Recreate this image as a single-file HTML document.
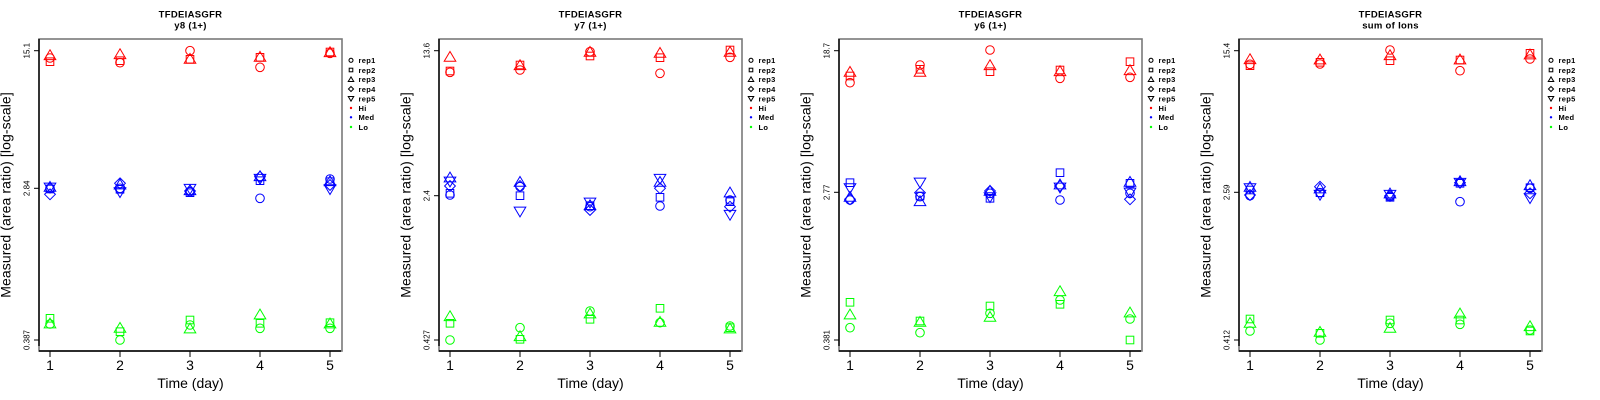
<!DOCTYPE html>
<html>
<head>
<meta charset="utf-8">
<style>
html,body{margin:0;padding:0;background:#fff;}
svg{display:block;}
text{font-family:"Liberation Sans",Arial,sans-serif;fill:#000;}
.tt{font-size:9.5px;font-weight:bold;text-anchor:middle;letter-spacing:0.3px;}
.yl{font-size:14px;text-anchor:middle;letter-spacing:0.1px;}
.yt{font-size:8px;text-anchor:middle;}
.xt{font-size:14px;text-anchor:middle;}
.lg{font-size:7.5px;font-weight:bold;letter-spacing:0.3px;}
</style>
</head>
<body>
<svg width="1600" height="400" viewBox="0 0 1600 400" xmlns="http://www.w3.org/2000/svg">
<defs>
<circle id="c" r="4.3"/>
<rect id="s" x="-3.8" y="-3.8" width="7.6" height="7.6"/>
<path id="t" d="M0,-5.2L5.8,4.6L-5.8,4.6Z"/>
<path id="d" d="M0,-5.4L5.4,0L0,5.4L-5.4,0Z"/>
<path id="v" d="M0,5.2L5.8,-4.6L-5.8,-4.6Z"/>
<g id="frame">
<rect x="39" y="39" width="303" height="312" fill="none" stroke="#7a7a7a" stroke-width="1.6"/>
<line x1="39" y1="39" x2="39" y2="346" stroke="#000" stroke-width="1.4"/>
<line x1="39" y1="351" x2="341" y2="351" stroke="#000" stroke-width="1.4"/>
<g stroke="#000" stroke-width="1">
<line x1="34" y1="50.7" x2="39" y2="50.7"/>
<line x1="34" y1="340" x2="39" y2="340"/>
<line x1="50" y1="351" x2="50" y2="357"/>
<line x1="120" y1="351" x2="120" y2="357"/>
<line x1="190" y1="351" x2="190" y2="357"/>
<line x1="260" y1="351" x2="260" y2="357"/>
<line x1="330" y1="351" x2="330" y2="357"/>
</g>
<g fill="none" stroke="#000" stroke-width="2.2">
<use href="#c" transform="translate(351,60.3) scale(0.47)"/>
<use href="#s" transform="translate(351,70) scale(0.47)"/>
<use href="#t" transform="translate(351,79.3) scale(0.47)"/>
<use href="#d" transform="translate(351,89) scale(0.47)"/>
<use href="#v" transform="translate(351,98.7) scale(0.47)"/>
</g>
<circle cx="351" cy="108" r="1.2" fill="#f00"/>
<circle cx="351" cy="117.3" r="1.2" fill="#00f"/>
<circle cx="351" cy="127" r="1.2" fill="#0f0"/>
</g>
</defs>

<!-- Panel 1 -->
<g transform="translate(0,0)">
<use href="#frame"/>
<text class="tt" x="190.5" y="17.3">TFDEIASGFR</text>
<text class="tt" x="190.5" y="28.7">y8 (1+)</text>
<text class="yl" transform="translate(10.5,195) rotate(-90)">Measured (area ratio) [log-scale]</text>
<line x1="34" y1="188.3" x2="39" y2="188.3" stroke="#000"/>
<text class="yt" transform="translate(29.3,50.7) rotate(-90)">15.1</text>
<text class="yt" transform="translate(29.3,188.3) rotate(-90)">2.84</text>
<text class="yt" transform="translate(29.3,340) rotate(-90)">0.387</text>
<text class="xt" x="50" y="370">1</text><text class="xt" x="120" y="370">2</text><text class="xt" x="190" y="370">3</text><text class="xt" x="260" y="370">4</text><text class="xt" x="330" y="370">5</text>
<text class="xt" x="190.5" y="388">Time (day)</text>
<text class="lg" x="358.5" y="63.1">rep1</text><text class="lg" x="358.5" y="72.8">rep2</text><text class="lg" x="358.5" y="82.1">rep3</text><text class="lg" x="358.5" y="91.8">rep4</text><text class="lg" x="358.5" y="101.5">rep5</text><text class="lg" x="358.5" y="110.8">Hi</text><text class="lg" x="358.5" y="120.1">Med</text><text class="lg" x="358.5" y="129.8">Lo</text>
<g fill="none" stroke="#f00" stroke-width="1">
<use href="#c" x="50" y="58"/><use href="#s" x="50" y="61.7"/><use href="#t" x="50" y="55"/>
<use href="#c" x="120" y="62.7"/><use href="#s" x="120" y="60.7"/><use href="#t" x="120" y="54"/>
<use href="#c" x="190" y="50.7"/><use href="#s" x="190" y="59.3"/><use href="#t" x="190" y="58.7"/>
<use href="#c" x="260" y="67.3"/><use href="#s" x="260" y="57.3"/><use href="#t" x="260" y="56.7"/>
<use href="#c" x="330" y="53.3"/><use href="#s" x="330" y="52"/><use href="#t" x="330" y="52"/>
</g>
<g fill="none" stroke="#00f" stroke-width="1">
<use href="#c" x="50" y="188.3"/><use href="#s" x="50" y="189"/><use href="#t" x="50" y="186.7"/><use href="#d" x="50" y="194.3"/><use href="#v" x="50" y="187.7"/>
<use href="#c" x="120" y="188.3"/><use href="#s" x="120" y="189.3"/><use href="#t" x="120" y="184.3"/><use href="#d" x="120" y="183.3"/><use href="#v" x="120" y="192.3"/>
<use href="#c" x="190" y="191.7"/><use href="#s" x="190" y="192.7"/><use href="#t" x="190" y="190"/><use href="#d" x="190" y="191"/><use href="#v" x="190" y="189"/>
<use href="#c" x="260" y="198.3"/><use href="#s" x="260" y="180.7"/><use href="#t" x="260" y="176"/><use href="#d" x="260" y="176.7"/><use href="#v" x="260" y="179"/>
<use href="#c" x="330" y="179"/><use href="#s" x="330" y="181.7"/><use href="#t" x="330" y="181"/><use href="#d" x="330" y="185"/><use href="#v" x="330" y="189.3"/>
</g>
<g fill="none" stroke="#0f0" stroke-width="1">
<use href="#c" x="50" y="324"/><use href="#s" x="50" y="318.3"/><use href="#t" x="50" y="323.3"/>
<use href="#c" x="120" y="340"/><use href="#s" x="120" y="331.7"/><use href="#t" x="120" y="327.7"/>
<use href="#c" x="190" y="325"/><use href="#s" x="190" y="320"/><use href="#t" x="190" y="328.3"/>
<use href="#c" x="260" y="328.3"/><use href="#s" x="260" y="323.3"/><use href="#t" x="260" y="314.3"/>
<use href="#c" x="330" y="328.3"/><use href="#s" x="330" y="322.7"/><use href="#t" x="330" y="323.3"/>
</g>
</g>

<!-- Panel 2 -->
<g transform="translate(400,0)">
<use href="#frame"/>
<text class="tt" x="190.5" y="17.3">TFDEIASGFR</text>
<text class="tt" x="190.5" y="28.7">y7 (1+)</text>
<text class="yl" transform="translate(10.5,195) rotate(-90)">Measured (area ratio) [log-scale]</text>
<line x1="34" y1="195.7" x2="39" y2="195.7" stroke="#000"/>
<text class="yt" transform="translate(29.3,50.7) rotate(-90)">13.6</text>
<text class="yt" transform="translate(29.3,195.7) rotate(-90)">2.4</text>
<text class="yt" transform="translate(29.3,340) rotate(-90)">0.427</text>
<text class="xt" x="50" y="370">1</text><text class="xt" x="120" y="370">2</text><text class="xt" x="190" y="370">3</text><text class="xt" x="260" y="370">4</text><text class="xt" x="330" y="370">5</text>
<text class="xt" x="190.5" y="388">Time (day)</text>
<text class="lg" x="358.5" y="63.1">rep1</text><text class="lg" x="358.5" y="72.8">rep2</text><text class="lg" x="358.5" y="82.1">rep3</text><text class="lg" x="358.5" y="91.8">rep4</text><text class="lg" x="358.5" y="101.5">rep5</text><text class="lg" x="358.5" y="110.8">Hi</text><text class="lg" x="358.5" y="120.1">Med</text><text class="lg" x="358.5" y="129.8">Lo</text>
<g fill="none" stroke="#f00" stroke-width="1">
<use href="#c" x="50" y="72.3"/><use href="#s" x="50" y="71"/><use href="#t" x="50" y="56.7"/>
<use href="#c" x="120" y="70"/><use href="#s" x="120" y="65"/><use href="#t" x="120" y="65"/>
<use href="#c" x="190" y="51.7"/><use href="#s" x="190" y="56"/><use href="#t" x="190" y="51.7"/>
<use href="#c" x="260" y="73.3"/><use href="#s" x="260" y="57.7"/><use href="#t" x="260" y="52.7"/>
<use href="#c" x="330" y="57.3"/><use href="#s" x="330" y="50"/><use href="#t" x="330" y="51.7"/>
</g>
<g fill="none" stroke="#00f" stroke-width="1">
<use href="#c" x="50" y="195"/><use href="#s" x="50" y="193.3"/><use href="#t" x="50" y="177.3"/><use href="#d" x="50" y="186"/><use href="#v" x="50" y="181.7"/>
<use href="#c" x="120" y="186.7"/><use href="#s" x="120" y="195.7"/><use href="#t" x="120" y="181.7"/><use href="#d" x="120" y="186"/><use href="#v" x="120" y="211.7"/>
<use href="#c" x="190" y="206.7"/><use href="#s" x="190" y="205.7"/><use href="#t" x="190" y="205"/><use href="#d" x="190" y="210"/><use href="#v" x="190" y="202.7"/>
<use href="#c" x="260" y="206"/><use href="#s" x="260" y="197.3"/><use href="#t" x="260" y="181.7"/><use href="#d" x="260" y="188.3"/><use href="#v" x="260" y="179"/>
<use href="#c" x="330" y="200"/><use href="#s" x="330" y="201.7"/><use href="#t" x="330" y="192.3"/><use href="#d" x="330" y="206.7"/><use href="#v" x="330" y="215"/>
</g>
<g fill="none" stroke="#0f0" stroke-width="1">
<use href="#c" x="50" y="340"/><use href="#s" x="50" y="323.3"/><use href="#t" x="50" y="316"/>
<use href="#c" x="120" y="327.7"/><use href="#s" x="120" y="339.3"/><use href="#t" x="120" y="336"/>
<use href="#c" x="190" y="311"/><use href="#s" x="190" y="319.3"/><use href="#t" x="190" y="313.3"/>
<use href="#c" x="260" y="322.7"/><use href="#s" x="260" y="308.3"/><use href="#t" x="260" y="321.7"/>
<use href="#c" x="330" y="326"/><use href="#s" x="330" y="327.7"/><use href="#t" x="330" y="328.3"/>
</g>
</g>

<!-- Panel 3 -->
<g transform="translate(800,0)">
<use href="#frame"/>
<text class="tt" x="190.5" y="17.3">TFDEIASGFR</text>
<text class="tt" x="190.5" y="28.7">y6 (1+)</text>
<text class="yl" transform="translate(10.5,195) rotate(-90)">Measured (area ratio) [log-scale]</text>
<line x1="34" y1="192.3" x2="39" y2="192.3" stroke="#000"/>
<text class="yt" transform="translate(29.3,50.7) rotate(-90)">18.7</text>
<text class="yt" transform="translate(29.3,192.3) rotate(-90)">2.77</text>
<text class="yt" transform="translate(29.3,340) rotate(-90)">0.381</text>
<text class="xt" x="50" y="370">1</text><text class="xt" x="120" y="370">2</text><text class="xt" x="190" y="370">3</text><text class="xt" x="260" y="370">4</text><text class="xt" x="330" y="370">5</text>
<text class="xt" x="190.5" y="388">Time (day)</text>
<text class="lg" x="358.5" y="63.1">rep1</text><text class="lg" x="358.5" y="72.8">rep2</text><text class="lg" x="358.5" y="82.1">rep3</text><text class="lg" x="358.5" y="91.8">rep4</text><text class="lg" x="358.5" y="101.5">rep5</text><text class="lg" x="358.5" y="110.8">Hi</text><text class="lg" x="358.5" y="120.1">Med</text><text class="lg" x="358.5" y="129.8">Lo</text>
<g fill="none" stroke="#f00" stroke-width="1">
<use href="#c" x="50" y="82.7"/><use href="#s" x="50" y="76"/><use href="#t" x="50" y="71.7"/>
<use href="#c" x="120" y="65"/><use href="#s" x="120" y="69.3"/><use href="#t" x="120" y="71.7"/>
<use href="#c" x="190" y="50"/><use href="#s" x="190" y="71.7"/><use href="#t" x="190" y="65"/>
<use href="#c" x="260" y="78.3"/><use href="#s" x="260" y="70"/><use href="#t" x="260" y="71"/>
<use href="#c" x="330" y="77.3"/><use href="#s" x="330" y="61.7"/><use href="#t" x="330" y="70"/>
</g>
<g fill="none" stroke="#00f" stroke-width="1">
<use href="#c" x="50" y="200"/><use href="#s" x="50" y="182.7"/><use href="#t" x="50" y="196.7"/><use href="#d" x="50" y="199.3"/><use href="#v" x="50" y="188.3"/>
<use href="#c" x="120" y="196.7"/><use href="#s" x="120" y="196"/><use href="#t" x="120" y="201"/><use href="#d" x="120" y="192.7"/><use href="#v" x="120" y="182.7"/>
<use href="#c" x="190" y="193.3"/><use href="#s" x="190" y="198.3"/><use href="#t" x="190" y="190.7"/><use href="#d" x="190" y="191"/><use href="#v" x="190" y="197.3"/>
<use href="#c" x="260" y="200"/><use href="#s" x="260" y="172.7"/><use href="#t" x="260" y="184.3"/><use href="#d" x="260" y="186"/><use href="#v" x="260" y="187.7"/>
<use href="#c" x="330" y="193.3"/><use href="#s" x="330" y="183.3"/><use href="#t" x="330" y="181.7"/><use href="#d" x="330" y="199.3"/><use href="#v" x="330" y="192.7"/>
</g>
<g fill="none" stroke="#0f0" stroke-width="1">
<use href="#c" x="50" y="327.7"/><use href="#s" x="50" y="302.3"/><use href="#t" x="50" y="314.3"/>
<use href="#c" x="120" y="332.7"/><use href="#s" x="120" y="321"/><use href="#t" x="120" y="321.7"/>
<use href="#c" x="190" y="313.3"/><use href="#s" x="190" y="306"/><use href="#t" x="190" y="316.7"/>
<use href="#c" x="260" y="300"/><use href="#s" x="260" y="304.3"/><use href="#t" x="260" y="291"/>
<use href="#c" x="330" y="319"/><use href="#s" x="330" y="340"/><use href="#t" x="330" y="312.3"/>
</g>
</g>

<!-- Panel 4 -->
<g transform="translate(1200,0)">
<use href="#frame"/>
<text class="tt" x="190.5" y="17.3">TFDEIASGFR</text>
<text class="tt" x="190.5" y="28.7">sum of Ions</text>
<text class="yl" transform="translate(10.5,195) rotate(-90)">Measured (area ratio) [log-scale]</text>
<line x1="34" y1="192.3" x2="39" y2="192.3" stroke="#000"/>
<text class="yt" transform="translate(29.3,50.7) rotate(-90)">15.4</text>
<text class="yt" transform="translate(29.3,192.3) rotate(-90)">2.59</text>
<text class="yt" transform="translate(29.3,340) rotate(-90)">0.412</text>
<text class="xt" x="50" y="370">1</text><text class="xt" x="120" y="370">2</text><text class="xt" x="190" y="370">3</text><text class="xt" x="260" y="370">4</text><text class="xt" x="330" y="370">5</text>
<text class="xt" x="190.5" y="388">Time (day)</text>
<text class="lg" x="358.5" y="63.1">rep1</text><text class="lg" x="358.5" y="72.8">rep2</text><text class="lg" x="358.5" y="82.1">rep3</text><text class="lg" x="358.5" y="91.8">rep4</text><text class="lg" x="358.5" y="101.5">rep5</text><text class="lg" x="358.5" y="110.8">Hi</text><text class="lg" x="358.5" y="120.1">Med</text><text class="lg" x="358.5" y="129.8">Lo</text>
<g fill="none" stroke="#f00" stroke-width="1">
<use href="#c" x="50" y="64.3"/><use href="#s" x="50" y="65.7"/><use href="#t" x="50" y="59"/>
<use href="#c" x="120" y="64"/><use href="#s" x="120" y="62.3"/><use href="#t" x="120" y="59.3"/>
<use href="#c" x="190" y="50"/><use href="#s" x="190" y="60.7"/><use href="#t" x="190" y="55"/>
<use href="#c" x="260" y="70.7"/><use href="#s" x="260" y="60"/><use href="#t" x="260" y="59.3"/>
<use href="#c" x="330" y="59"/><use href="#s" x="330" y="53.3"/><use href="#t" x="330" y="54.3"/>
</g>
<g fill="none" stroke="#00f" stroke-width="1">
<use href="#c" x="50" y="195.7"/><use href="#s" x="50" y="190"/><use href="#t" x="50" y="186.7"/><use href="#d" x="50" y="195"/><use href="#v" x="50" y="188.3"/>
<use href="#c" x="120" y="192.7"/><use href="#s" x="120" y="192.7"/><use href="#t" x="120" y="188.3"/><use href="#d" x="120" y="186.7"/><use href="#v" x="120" y="195"/>
<use href="#c" x="190" y="196.7"/><use href="#s" x="190" y="197.3"/><use href="#t" x="190" y="193.3"/><use href="#d" x="190" y="196"/><use href="#v" x="190" y="195"/>
<use href="#c" x="260" y="201.7"/><use href="#s" x="260" y="183.3"/><use href="#t" x="260" y="181"/><use href="#d" x="260" y="182.7"/><use href="#v" x="260" y="183"/>
<use href="#c" x="330" y="188.3"/><use href="#s" x="330" y="187.7"/><use href="#t" x="330" y="185"/><use href="#d" x="330" y="193.3"/><use href="#v" x="330" y="198.3"/>
</g>
<g fill="none" stroke="#0f0" stroke-width="1">
<use href="#c" x="50" y="331"/><use href="#s" x="50" y="319"/><use href="#t" x="50" y="322.7"/>
<use href="#c" x="120" y="340"/><use href="#s" x="120" y="333.3"/><use href="#t" x="120" y="331.7"/>
<use href="#c" x="190" y="323.3"/><use href="#s" x="190" y="320"/><use href="#t" x="190" y="327.7"/>
<use href="#c" x="260" y="324.3"/><use href="#s" x="260" y="320"/><use href="#t" x="260" y="313.3"/>
<use href="#c" x="330" y="330"/><use href="#s" x="330" y="331"/><use href="#t" x="330" y="326"/>
</g>
</g>
</svg>
</body>
</html>
